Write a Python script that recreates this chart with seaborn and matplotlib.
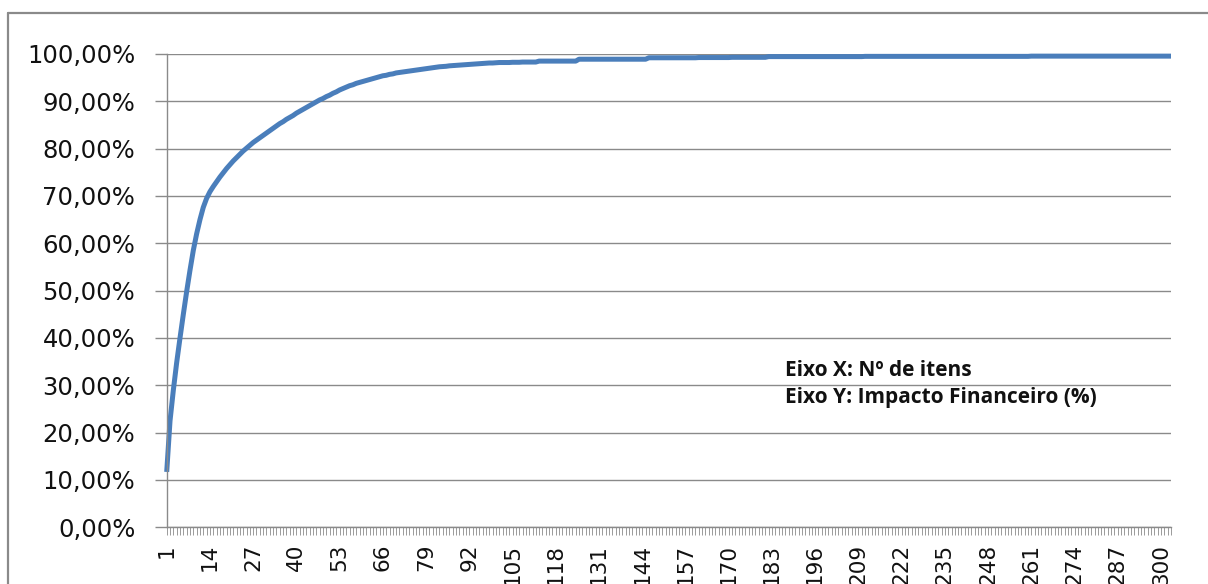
import numpy as np
import pandas as pd
import matplotlib.pyplot as plt
from matplotlib.lines import Line2D
from matplotlib.ticker import FuncFormatter
import seaborn as sns

# cumulative financial impact (%) per item
pct = [
    11.7, 22.5, 29.0, 34.8, 40.0, 45.0, 49.8, 54.3, 58.5, 62.0,
    65.0, 67.6, 69.5, 70.9, 72.0, 73.0, 74.0, 74.9, 75.8, 76.6,
    77.4, 78.1, 78.8, 79.5, 80.1, 80.7, 81.3, 81.8, 82.3, 82.8,
    83.3, 83.8, 84.3, 84.8, 85.3, 85.7, 86.2, 86.6, 87.0, 87.5,
    87.9, 88.3, 88.7, 89.1, 89.5, 89.9, 90.3, 90.6, 91.0, 91.3,
    91.7, 92.0, 92.4, 92.7, 93.0, 93.3, 93.5, 93.8, 94.0, 94.2,
    94.4, 94.6, 94.8, 95.0, 95.2, 95.4, 95.5, 95.7, 95.8, 96.0,
    96.1, 96.2, 96.3, 96.4, 96.5, 96.6, 96.7, 96.8, 96.9, 97.0,
    97.1, 97.2, 97.3, 97.35, 97.4, 97.5, 97.55, 97.6, 97.65, 97.7,
    97.75, 97.8, 97.85, 97.9, 97.95, 98.0, 98.05, 98.1, 98.1, 98.15,
    98.2, 98.2, 98.2, 98.2, 98.25, 98.25, 98.25, 98.3, 98.3, 98.3,
    98.3, 98.3, 98.5, 98.5, 98.5, 98.5, 98.5, 98.5, 98.5, 98.5,
    98.5, 98.5, 98.5, 98.5, 98.9, 98.9, 98.9, 98.9, 98.9, 98.9,
    98.9, 98.9, 98.9, 98.9, 98.9, 98.9, 98.9, 98.9, 98.9, 98.9,
    98.9, 98.9, 98.9, 98.9, 98.9, 99.2, 99.2, 99.2, 99.2, 99.2,
    99.2, 99.2, 99.2, 99.2, 99.2, 99.2, 99.2, 99.2, 99.2, 99.2,
    99.25, 99.25, 99.25, 99.25, 99.25, 99.25, 99.25, 99.25, 99.25, 99.25,
    99.3, 99.3, 99.3, 99.3, 99.3, 99.3, 99.3, 99.3, 99.3, 99.3,
    99.3, 99.45, 99.45, 99.45, 99.45, 99.45, 99.45, 99.45, 99.45, 99.45,
    99.45, 99.45, 99.45, 99.45, 99.45, 99.45, 99.45, 99.45, 99.45, 99.45,
    99.45, 99.45, 99.45, 99.45, 99.45, 99.45, 99.45, 99.45, 99.45, 99.45,
    99.5, 99.5, 99.5, 99.5, 99.5, 99.5, 99.5, 99.5, 99.5, 99.5,
    99.5, 99.5, 99.5, 99.5, 99.5, 99.5, 99.5, 99.5, 99.5, 99.5,
    99.5, 99.5, 99.5, 99.5, 99.5, 99.5, 99.5, 99.5, 99.5, 99.5,
    99.5, 99.5, 99.5, 99.5, 99.5, 99.5, 99.5, 99.5, 99.5, 99.5,
    99.5, 99.5, 99.5, 99.5, 99.5, 99.5, 99.5, 99.5, 99.5, 99.5,
    99.55, 99.55, 99.55, 99.55, 99.55, 99.55, 99.55, 99.55, 99.55, 99.55,
    99.55, 99.55, 99.55, 99.55, 99.55, 99.55, 99.55, 99.55, 99.55, 99.55,
    99.55, 99.55, 99.55, 99.55, 99.55, 99.55, 99.55, 99.55, 99.55, 99.55,
    99.55, 99.55, 99.55, 99.55, 99.55, 99.55, 99.55, 99.55, 99.55, 99.55,
    99.55, 99.55, 99.55,
]
items = list(range(1, len(pct) + 1))
label_items = list(range(1, 301, 13))
y_ticks = list(range(0, 101, 10))

note_lines = ["Eixo X: Nº de itens", "Eixo Y: Impacto Financeiro (%)"]

LINE_BLUE = "#4a7ebb"
GRID_GRAY = "#8a8a8a"

sns.set_style("white")
plt.rcParams['font.family'] = ['DejaVu Sans']

W, H = 1208, 584
fig = plt.figure(figsize=(W / 100, H / 100), dpi=100)
ax = fig.add_axes([166.7 / W, (H - 527.3) / H, 1004.3 / W, 473.3 / H])

df = pd.DataFrame({"item": items, "pct": pct})
sns.lineplot(data=df, x="item", y="pct", color=LINE_BLUE, linewidth=3.6, ax=ax)
for ln in ax.lines:
    ln.set_clip_on(False)
    ln.set_solid_capstyle("butt")

ax.set_xlim(1, len(pct))
ax.set_ylim(0, 100)
ax.set_xlabel("")
ax.set_ylabel("")

ax.set_xticks(label_items)
ax.set_xticks(items, minor=True)
ax.set_xticklabels([str(i) for i in label_items], rotation=90, fontsize=15.5, color="#111111")
ax.tick_params(axis="x", which="both", length=6, width=0.6, color=GRID_GRAY,
               direction="out", pad=6, bottom=True)

ax.set_yticks(y_ticks)
ax.yaxis.set_major_formatter(FuncFormatter(lambda v, p: f"{v:.2f}%".replace(".", ",")))
ax.tick_params(axis="y", length=8.6, width=1.0, color=GRID_GRAY, direction="out",
               pad=14, labelsize=17.5, labelcolor="#111111", left=True)

ax.yaxis.grid(True, color=GRID_GRAY, linewidth=1.0)
ax.xaxis.grid(False)
ax.set_axisbelow(True)
for side in ["top", "right"]:
    ax.spines[side].set_visible(False)
for side in ["left", "bottom"]:
    ax.spines[side].set_color(GRID_GRAY)
    ax.spines[side].set_linewidth(1.0)

# explanatory note inside the plot
fig.text(785 / W, (H - 371) / H, note_lines[0], fontsize=15, fontweight="bold",
         family=["Open Sans", "DejaVu Sans"], color="#111111", va="center", ha="left")
fig.text(785 / W, (H - 397) / H, note_lines[1], fontsize=15, fontweight="bold",
         family=["Open Sans", "DejaVu Sans"], color="#111111", va="center", ha="left")

# outer chart frame: only top and left edges are visible in the reference
fx, fy = 8 / W, (H - 13) / H
fig.add_artist(Line2D([fx, 1.0], [fy, fy], transform=fig.transFigure,
                      color=GRID_GRAY, linewidth=1.6))
fig.add_artist(Line2D([fx, fx], [0.0, fy], transform=fig.transFigure,
                      color=GRID_GRAY, linewidth=1.6))

fig.savefig("out.png", dpi=100)
